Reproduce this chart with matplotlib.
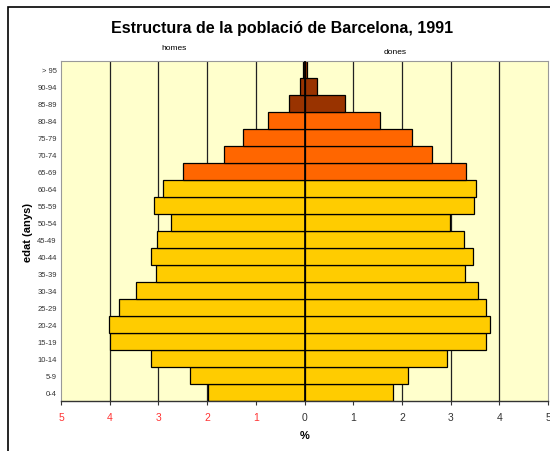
import matplotlib
matplotlib.use("Agg")
import matplotlib.pyplot as plt
from matplotlib.patches import Rectangle

plt.rcParams['font.family'] = ['Liberation Sans', 'DejaVu Sans']

ages = ["0-4", "5-9", "10-14", "15-19", "20-24", "25-29", "30-34", "35-39",
        "40-44", "45-49", "50-54", "55-59", "60-64", "65-69", "70-74",
        "75-79", "80-84", "85-89", "90-94", "> 95"]
homes = [1.99, 2.35, 3.15, 3.99, 4.02, 3.81, 3.46, 3.05, 3.15, 3.02,
         2.74, 3.10, 2.91, 2.50, 1.66, 1.26, 0.75, 0.32, 0.10, 0.04]
dones = [1.82, 2.13, 2.93, 3.73, 3.80, 3.73, 3.57, 3.30, 3.46, 3.27,
         2.99, 3.49, 3.52, 3.32, 2.62, 2.21, 1.55, 0.83, 0.25, 0.05]
xticks = [-5, -4, -3, -2, -1, 0, 1, 2, 3, 4, 5]
xticklabels = ["5", "4", "3", "2", "1", "0", "1", "2", "3", "4", "5"]

def color_for(i):
    if i >= 17:
        return "#993300"
    if i >= 13:
        return "#FF6600"
    return "#FFCC00"

colors = [color_for(i) for i in range(len(ages))]

fig = plt.figure(figsize=(5.5, 4.52), dpi=100)
fig.patches.append(Rectangle((8/550, -0.1), 1.2, (452-8)/452 + 0.1,
                             transform=fig.transFigure, fill=False,
                             edgecolor="black", linewidth=1.2))
ax = fig.add_axes([61/550, (452-402)/452, 487/550, 340/452])
ax.set_facecolor("#FFFFCC")

y = list(range(len(ages)))
for v in [-4, -3, -2, -1, 1, 2, 3, 4]:
    ax.axvline(v, color="#222222", linewidth=0.9, zorder=1)
ax.barh(y, [-h for h in homes], height=1.0, color=colors,
        edgecolor="black", linewidth=0.9, zorder=2)
ax.barh(y, dones, height=1.0, color=colors,
        edgecolor="black", linewidth=0.9, zorder=2)
ax.axvline(0, color="black", linewidth=1.2, zorder=3)

ax.set_xlim(-5, 5)
ax.set_ylim(-0.5, len(ages) - 0.5)
ax.set_yticks(y)
ax.set_yticklabels(ages, fontsize=5.5, color="#333333")
ax.tick_params(axis="y", length=0, pad=3)
ax.set_xticks(xticks)
ax.set_xticklabels(xticklabels, fontsize=7.5)
for lbl, v in zip(ax.get_xticklabels(), xticks):
    lbl.set_color("#FF3333" if v < 0 else "#333333")
ax.tick_params(axis="x", direction="out", length=3, width=0.8,
               color="#333333", pad=5)

for s in ["top", "right", "left"]:
    ax.spines[s].set_color("#999999")
    ax.spines[s].set_linewidth(0.8)
ax.spines["bottom"].set_color("#333333")
ax.spines["bottom"].set_linewidth(1.0)

ax.set_xlabel("%", fontsize=8, fontweight="bold", labelpad=6)
ax.set_ylabel("edat (anys)", fontsize=8, fontweight="bold", labelpad=3)

fig.text(282/550, 1 - 28/452, "Estructura de la població de Barcelona, 1991",
         ha="center", va="center", fontsize=11.5, fontweight="bold")
fig.text(174/550, 1 - 49/452, "homes", ha="center", va="center", fontsize=6)
fig.text(395/550, 1 - 52/452, "dones", ha="center", va="center", fontsize=6)

fig.savefig("out.png", dpi=100)
